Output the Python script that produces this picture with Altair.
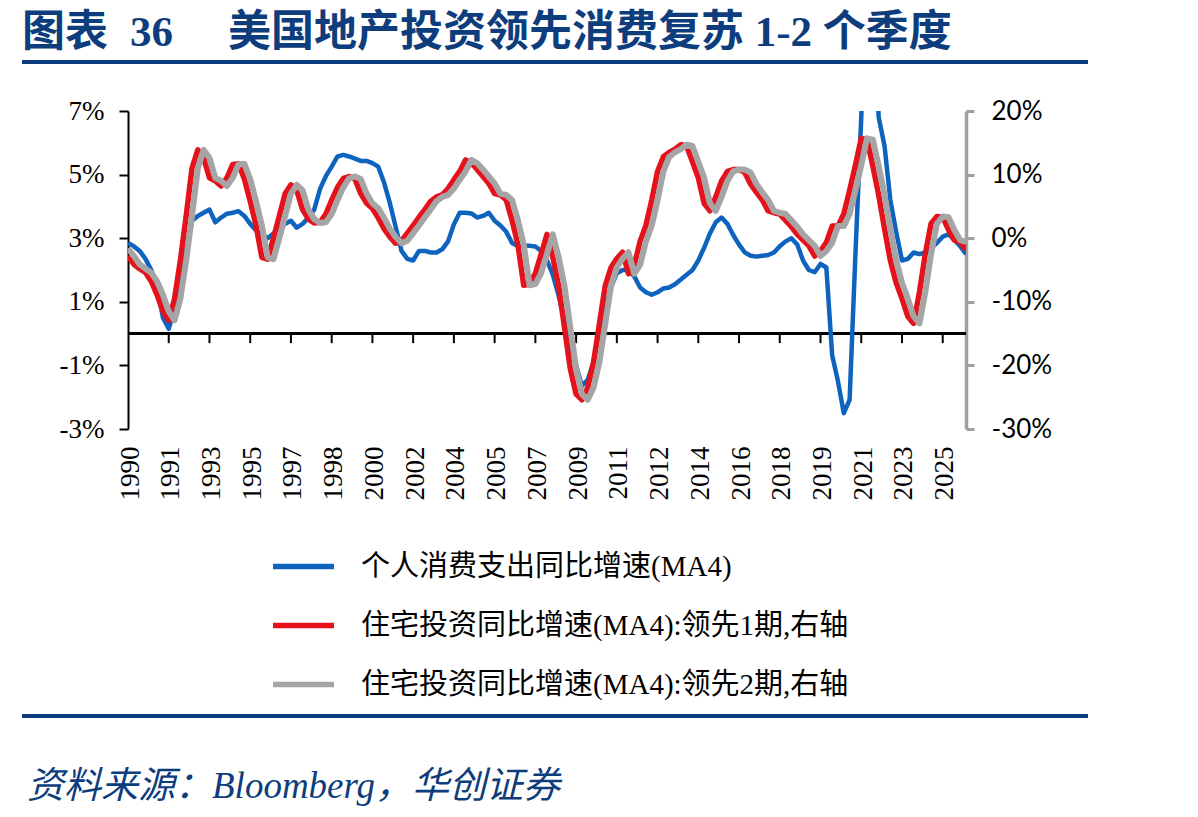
import altair as alt
import pandas as pd

# Quarterly axis: first quarter 1990Q1, one labelled tick every 7 quarters
YEAR_LABELS = ["1990", "1991", "1993", "1995", "1997", "1998", "2000", "2002",
               "2004", "2005", "2007", "2009", "2011", "2012", "2014", "2016",
               "2018", "2019", "2021", "2023", "2025"]
TICK_STEP = 7

# Personal consumption expenditure, YoY growth, 4-quarter average (%), left axis
pce = [2.85, 2.75, 2.6, 2.35, 2.0, 1.5, 0.5, 0.15, 0.8, 1.7,
       2.6, 3.55, 3.7, 3.8, 3.9, 3.5, 3.65, 3.77, 3.8, 3.85,
       3.7, 3.45, 3.25, 3.1, 3.0, 3.15, 3.33, 3.45, 3.55, 3.33,
       3.45, 3.65, 3.9, 4.55, 4.95, 5.25, 5.57, 5.62, 5.57, 5.5,
       5.43, 5.43, 5.36, 5.25, 4.75, 4.1, 3.35, 2.6, 2.35, 2.3,
       2.6, 2.6, 2.55, 2.55, 2.65, 2.9, 3.44, 3.8, 3.8, 3.78,
       3.65, 3.7, 3.8, 3.55, 3.4, 3.2, 2.85, 2.75, 2.76, 2.76,
       2.74, 2.6, 2.3, 1.85, 1.2, 0.4, -0.45, -1.0, -1.65, -1.45,
       -0.9, 0.1, 0.8, 1.45, 1.9, 2.0, 2.0, 1.8, 1.45, 1.3,
       1.22, 1.3, 1.42, 1.45, 1.55, 1.7, 1.85, 2.0, 2.3, 2.7,
       3.15, 3.5, 3.65, 3.45, 3.1, 2.8, 2.55, 2.45, 2.42, 2.45,
       2.47, 2.55, 2.75, 2.9, 3.0, 2.8, 2.3, 2.0, 1.93, 2.19,
       2.08, -0.68, -1.5, -2.5, -2.08, 2.5, 6.8, 12.0, 10.5, 6.8,
       5.9, 4.2, 3.2, 2.3, 2.35, 2.55, 2.5, 2.55, 2.7, 2.85,
       3.05, 3.12, 2.95, 2.75, 2.5]

# Residential investment, YoY growth, 4-quarter average (%), right axis.
# Starts one quarter earlier than the consumption series so that it can be
# shown led by one and by two quarters.
resi = [-1.6,
        -2.8, -4.1, -4.8, -5.4, -6.8, -8.9, -11.5, -12.9, -9.5, -3.5,
        3.5, 11.0, 13.9, 12.6, 9.5, 9.0, 8.2, 9.5, 11.6, 11.7,
        9.3, 5.8, 2.0, -3.0, -3.3, 0.0, 3.5, 7.0, 8.4, 7.5,
        4.5, 3.0, 2.4, 2.5, 3.8, 6.0, 8.0, 9.4, 9.7, 9.3,
        7.0, 5.5, 4.7, 3.2, 1.5, 0.2, -0.8, -0.4, 0.8, 2.0,
        3.3, 4.5, 5.8, 6.5, 6.8, 7.8, 9.2, 10.5, 12.3, 11.8,
        10.8, 9.7, 8.6, 7.0, 6.8, 6.0, 2.8, -1.0, -7.4, -7.2,
        -5.5, -2.5, 0.6, -3.0, -7.5, -14.0, -20.5, -24.5, -25.4, -23.5,
        -19.5, -13.5, -7.5, -4.6, -3.2, -2.2, -5.6, -4.2, -0.5, 2.0,
        6.0, 10.5, 12.8, 13.5, 14.0, 14.7, 14.5, 12.0, 9.5, 5.5,
        4.3, 6.5, 9.0, 10.5, 10.8, 10.8, 10.3, 8.5, 7.2, 6.0,
        4.3, 4.0, 3.8, 2.8, 1.8, 0.6, -0.3, -1.2, -2.8, -2.0,
        -0.7, 1.9, 1.9, 3.8, 7.5, 11.5, 15.7, 15.5, 11.3, 6.8,
        1.5, -3.5, -7.0, -9.5, -12.3, -13.4, -8.5, -2.5, 2.3, 3.4,
        3.3, 1.3, -0.3, -0.6, -1.8]

SERIES = ["个人消费支出同比增速(MA4)",
          "住宅投资同比增速(MA4):领先1期,右轴",
          "住宅投资同比增速(MA4):领先2期,右轴"]
COLORS = ["#0e63bf", "#e5121c", "#a5a5a5"]

LEFT_TICKS = [-3, -1, 1, 3, 5, 7]
RIGHT_TICKS = [-30, -20, -10, 0, 10, 20]

NAVY = "#0d3d7c"
SERIF = "Liberation Serif, Noto Sans CJK SC"

n = len(pce)
df_pce = pd.DataFrame({"q": range(n), "v": pce, "s": SERIES[0]})
df_lead1 = pd.DataFrame({"q": range(n), "v": resi[1:n + 1], "s": SERIES[1]})
df_lead2 = pd.DataFrame({"q": range(n), "v": resi[0:n], "s": SERIES[2]})
df_ticks = pd.DataFrame({"q": [k * TICK_STEP for k in range(1, len(YEAR_LABELS))]})

label_array = "[" + ",".join("'%s'" % y for y in YEAR_LABELS) + "]"
x_enc = alt.X(
    "q:Q",
    scale=alt.Scale(domain=[0, n - 1], nice=False, zero=False),
    axis=alt.Axis(
        values=[k * TICK_STEP for k in range(len(YEAR_LABELS))],
        labelExpr=label_array + "[round(datum.value / %d)]" % TICK_STEP,
        labelAngle=270, labelFont="Liberation Serif", labelFontSize=27,
        labelColor="black", labelPadding=17, labelOffset=2,
        domain=False, ticks=False, grid=False, title=None,
    ),
)

color_enc = alt.Color(
    "s:N",
    scale=alt.Scale(domain=SERIES, range=COLORS),
    sort=SERIES,
    legend=alt.Legend(
        orient="none", legendX=142, legendY=422, title=None,
        direction="vertical", symbolType="stroke", symbolSize=3721,
        symbolStrokeWidth=5.5, labelFont=SERIF, labelFontSize=29,
        labelColor="black", labelOffset=24, rowPadding=10, padding=0,
        labelLimit=800,
    ),
)

left_scale = alt.Scale(domain=[-3, 7], nice=False, zero=False)
right_scale = alt.Scale(domain=[-30, 20], nice=False, zero=False)

left_axis = alt.Axis(
    values=LEFT_TICKS, labelExpr="datum.value + '%'", grid=False, title=None,
    domainColor="black", domainWidth=2, tickColor="black", tickWidth=2,
    tickSize=9, labelFont="Liberation Serif", labelFontSize=27,
    labelColor="black", labelPadding=15,
)
right_axis = alt.Axis(
    orient="right", values=RIGHT_TICKS, labelExpr="datum.value + '%'",
    grid=False, title=None, domainColor="#a0a0a0", domainWidth=3.5,
    tickColor="#a0a0a0", tickWidth=3, tickSize=8, labelFont="Lato",
    labelFontSize=26, labelColor="black", labelPadding=17,
)

# zero line of the left axis with the category ticks hanging below it
zero_line = alt.Chart(df_pce).mark_rule(color="black", strokeWidth=2).encode(
    y=alt.Y(datum=0, scale=left_scale, axis=left_axis)
)
cat_ticks = alt.Chart(df_ticks).mark_rule(color="black", strokeWidth=2).encode(
    x=x_enc, y=alt.Y(datum=0, scale=left_scale), y2=alt.datum(-0.3)
)
pce_line = alt.Chart(df_pce).mark_line(strokeWidth=4.5, clip=True, strokeJoin="round").encode(
    x=x_enc, y=alt.Y("v:Q", scale=left_scale, axis=left_axis), color=color_enc
)
left_group = alt.layer(zero_line, cat_ticks, pce_line)

lead1_line = alt.Chart(df_lead1).mark_line(strokeWidth=5.5, clip=True, strokeJoin="round").encode(
    x=x_enc, y=alt.Y("v:Q", scale=right_scale, axis=right_axis), color=color_enc
)
lead2_line = alt.Chart(df_lead2).mark_line(strokeWidth=6, clip=True, strokeJoin="round").encode(
    x=x_enc, y=alt.Y("v:Q", scale=right_scale, axis=right_axis), color=color_enc
)
right_group = alt.layer(lead1_line, lead2_line)

one_row = pd.DataFrame({"k": [0]})


def text_mark(txt, x, y, size, bold=False, italic=False, color=NAVY, font=SERIF):
    return alt.Chart(one_row).mark_text(
        text=txt, align="left", baseline="alphabetic", fontSize=size,
        fontWeight="bold" if bold else "normal",
        fontStyle="italic" if italic else "normal", color=color, font=font,
    ).encode(x=alt.value(x), y=alt.value(y))


def hrule(y):
    return alt.Chart(one_row).mark_rule(color=NAVY, strokeWidth=4).encode(
        x=alt.value(-106), x2=alt.value(960), y=alt.value(y)
    )


title_a = text_mark("图表", -106, -65, 43, bold=True)
title_n = text_mark("36", 2, -65, 43, bold=True)
title_b = text_mark("美国地产投资领先消费复苏 1-2 个季度", 100, -65, 43, bold=True)
source = text_mark("资料来源：Bloomberg，华创证券", -101, 687, 37, italic=True)

chart = alt.layer(
    left_group, right_group, title_a, title_n, title_b, source, hrule(-49), hrule(605)
).resolve_scale(
    y="independent"
).properties(
    width=838, height=318,
    autosize=alt.AutoSizeParams(type="none"),
    padding={"left": 128, "top": 111, "right": 232, "bottom": 388},
    background="white",
).configure_view(stroke=None)

chart.save("out.html", embed_options={"renderer": "svg", "actions": False})
